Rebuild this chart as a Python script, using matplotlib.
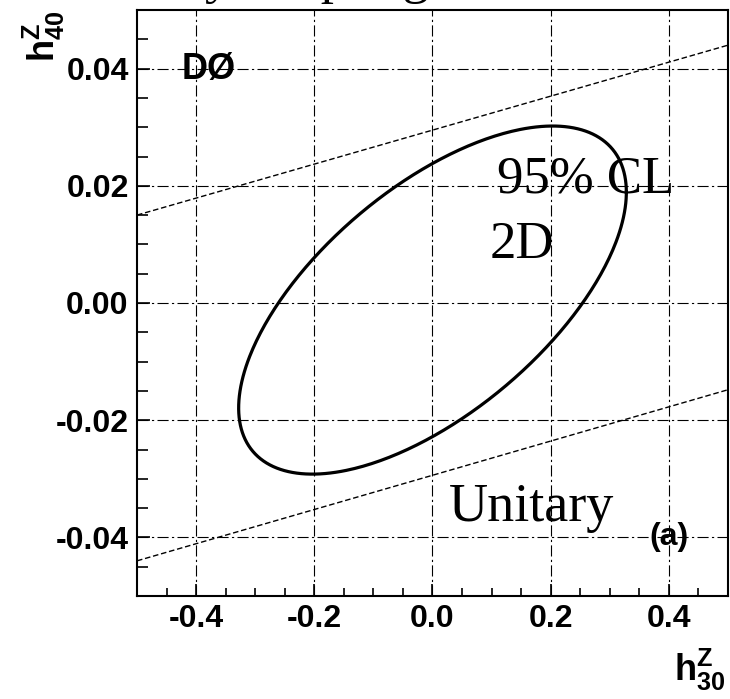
import numpy as np
import matplotlib
matplotlib.use("Agg")
import matplotlib.pyplot as plt
from matplotlib.ticker import MultipleLocator, FixedLocator
from matplotlib import font_manager as fm

# ---------------- data ----------------
x_ticks = [-0.4, -0.2, 0.0, 0.2, 0.4]
x_tick_labels = ["-0.4", "-0.2", "0.0", "0.2", "0.4"]
y_ticks = [-0.04, -0.02, 0.00, 0.02, 0.04]
y_tick_labels = ["-0.04", "-0.02", "0.00", "0.02", "0.04"]
x_limits = [-0.5, 0.5]
y_limits = [-0.05, 0.05]

# unitarity limit lines (end points)
unit_upper_x = [-0.5, 0.5]
unit_upper_y = [0.0150, 0.0440]
unit_lower_x = [-0.5, 0.5]
unit_lower_y = [-0.0440, -0.0148]

# 95% CL 2D contour (ellipse): centre, half extents, phase between x and y
ell_center = (0.0, 0.0005)
ell_half_x = 0.328
ell_half_y = 0.0297
ell_phase_deg = 51.7

# ---------------- fonts ----------------
names = {f.name for f in fm.fontManager.ttflist}
SANS = "Liberation Sans" if "Liberation Sans" in names else "DejaVu Sans"
SERIF = "Liberation Serif" if "Liberation Serif" in names else "DejaVu Serif"
plt.rcParams["mathtext.fontset"] = "custom"
plt.rcParams["mathtext.bf"] = SANS + ":bold"
plt.rcParams["mathtext.rm"] = SANS
plt.rcParams["mathtext.it"] = SANS + ":italic"

fig = plt.figure(figsize=(7.3, 6.99), dpi=100)
fig.patch.set_facecolor("white")
W, H = 730.0, 699.0
ax = fig.add_axes([137 / W, 1 - 596 / H, (728 - 137) / W, (596 - 10) / H])
ax.set_xlim(*x_limits)
ax.set_ylim(*y_limits)

# grid
ax.set_axisbelow(True)
ax.xaxis.set_major_locator(FixedLocator(x_ticks))
ax.yaxis.set_major_locator(FixedLocator(y_ticks))
ax.xaxis.set_minor_locator(MultipleLocator(0.05))
ax.yaxis.set_minor_locator(MultipleLocator(0.005))
ax.grid(True, which="major", color="black", lw=0.8, linestyle=(0, (10, 3, 2, 3)))

ax.set_xticklabels(x_tick_labels)
ax.set_yticklabels(y_tick_labels)
ax.tick_params(which="both", direction="in", top=False, right=False, width=1.2, color="black")
ax.tick_params(which="major", length=9)
ax.tick_params(axis="y", which="minor", length=8)
ax.tick_params(axis="x", which="minor", length=6)
ax.tick_params(axis="y", which="major", pad=6)
ax.tick_params(axis="x", which="major", pad=6)
for lab in ax.get_xticklabels() + ax.get_yticklabels():
    lab.set_fontweight("bold")
    lab.set_fontsize(23)
    lab.set_family(SANS)

for sp in ax.spines.values():
    sp.set_linewidth(1.5)
    sp.set_color("black")

# unitarity lines
ax.plot(unit_upper_x, unit_upper_y, color="black", lw=1.0, linestyle=(0, (4, 2)))
ax.plot(unit_lower_x, unit_lower_y, color="black", lw=1.0, linestyle=(0, (4, 2)))

# ellipse contour
t = np.linspace(0, 2 * np.pi, 400)
ph = np.deg2rad(ell_phase_deg)
ex = ell_center[0] + ell_half_x * np.cos(t)
ey = ell_center[1] + ell_half_y * np.cos(t - ph)
ax.plot(ex, ey, color="black", lw=2.3)

# texts
ax.text(-0.4244, 0.0382, "DØ", fontsize=26, fontweight="bold", va="baseline", ha="left", family=SANS)
ax.text(0.109, 0.0189, "95% CL", fontsize=38, family=SERIF, va="baseline", ha="left")
ax.text(0.097, 0.0076, "2D", fontsize=38, family=SERIF, va="baseline", ha="left")
ax.text(0.0284, -0.0372, "Unitary", fontsize=39, family=SERIF, va="baseline", ha="left")
ax.text(0.4, -0.04, "(a)", fontsize=23, fontweight="bold", va="center", ha="center", family=SANS)

# axis labels
fig.text(44 / W, 1 - 36 / H, r"$\mathbf{h}^{\mathbf{Z}}_{\mathbf{40}}$", rotation=90,
         fontsize=26, ha="center", va="center")
fig.text(700 / W, 1 - 670 / H, r"$\mathbf{h}^{\mathbf{Z}}_{\mathbf{30}}$",
         fontsize=26, ha="center", va="center")

# cut-off title at the very top
fig.text(205 / W, 1 + 7 / H, "y coupling", fontsize=38, family=SERIF, va="baseline", ha="left")

fig.savefig("out.png", dpi=100, facecolor="white")
